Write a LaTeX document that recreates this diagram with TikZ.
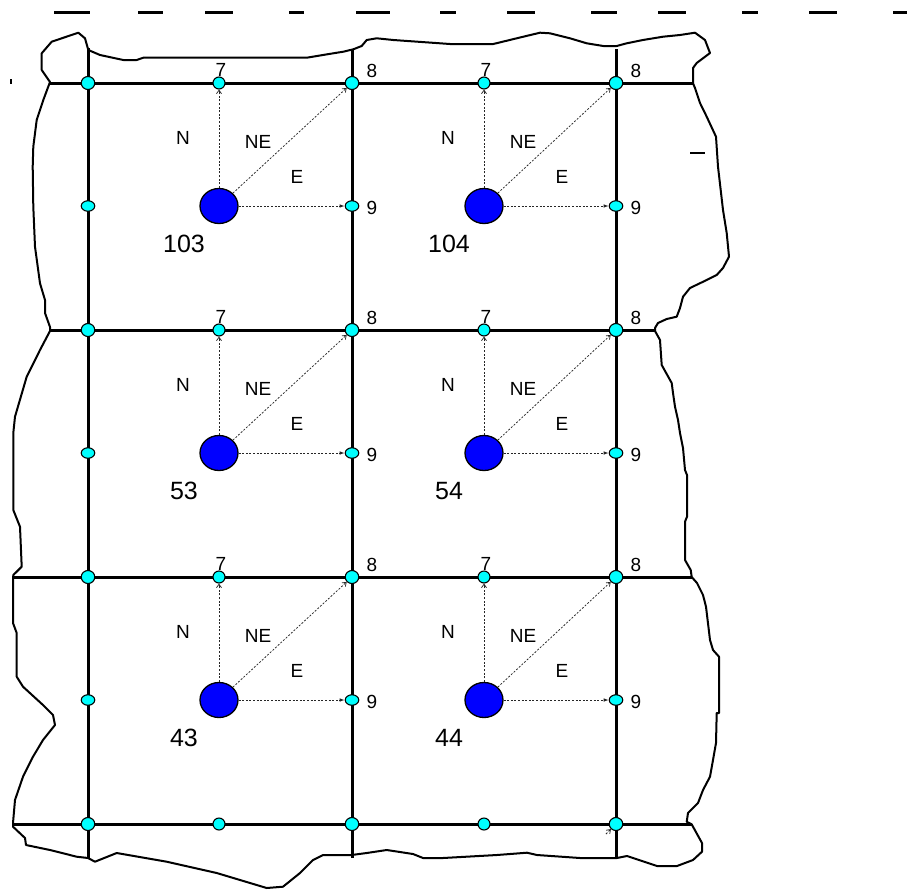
\documentclass[tikz,border=0pt]{standalone}
\usepackage{fontspec}
\setmainfont{Liberation Sans}
\usetikzlibrary{shapes.geometric,arrows.meta}
\definecolor{dotcyan}{RGB}{0,255,255}
\definecolor{cellblue}{RGB}{0,0,255}
\begin{document}
\begin{tikzpicture}[x=1pt,y=-1pt,
  gridline/.style={line width=3pt},
  rim/.style={line width=2pt, line join=round},
  cornerdot/.style={ellipse, draw, line width=1.1pt, fill=dotcyan, inner sep=0pt, minimum width=13.5pt, minimum height=13pt},
  topdot/.style={cornerdot, minimum width=12pt, minimum height=12pt},
  sidedot/.style={cornerdot, minimum width=13.5pt, minimum height=10.5pt},
  cellball/.style={ellipse, draw, line width=1.3pt, fill=cellblue, inner sep=0pt, minimum width=38pt, minimum height=35pt},
  ray/.style={line width=0.75pt, dash pattern=on 2pt off 1.6pt, draw=black!85},
  barb/.style={-{Straight Barb[length=3.5pt,width=5pt]}},
  fillhead/.style={-{Latex[length=5pt,width=3.5pt]}},
  lab/.style={font=\fontsize{19}{20}\selectfont, inner sep=0pt},
  num/.style={font=\fontsize{25}{26}\selectfont, inner sep=0pt},
  topdash/.style={line width=3pt},
]
\useasboundingbox (0,0) rectangle (907,889);

% top dashed row
\foreach \xa/\xb in {54/90,138/163,205/233,289/304,356/390,440/456,507/535,591/617,658/686,742/758,809/837,893/907}
  \draw[topdash] (\xa,12.7) -- (\xb,12.7);

% stray marks
\draw[line width=1.2pt] (11,79) -- (11,84);
\draw[line width=2.8pt] (690,153) -- (705,153);

% irregular outline
\draw[rim] (50,82) -- (41.7,70) -- (41.7,53.3) -- (51.7,41.7) -- (78.3,32.7) -- (85,38.3) -- (88.3,50) -- (100,55) -- (123.3,60) -- (136.7,60) -- (143.3,57.7) -- (306.7,57.7) -- (333.3,53.3) -- (343.3,51.7) -- (353.3,49.3) -- (361.7,46) -- (366.7,40) -- (376.7,38.3) -- (393.3,40) -- (450,44) -- (493.3,44) -- (516.7,38.3) -- (540,32.7) -- (550,33.3) -- (570,38.3) -- (586.7,43.3) -- (603.3,46) -- (616.7,46) -- (626.7,43.3) -- (643,40) -- (663,36.7) -- (680,35) -- (695,32.7) -- (705,40) -- (710,53) -- (696.7,63) -- (693,68) -- (693,83.3)
 -- (695,88) -- (700,103) -- (706.7,116.7) -- (716,136.7) -- (718,166.7) -- (723,210) -- (726.7,233) -- (729,256.7) -- (723,268) -- (716.7,275) -- (706.7,280) -- (690,288) -- (683,296.7) -- (680,308) -- (676.7,316.7) -- (666.7,319) -- (658,323) -- (655,328) -- (655,331) -- (660,340) -- (661.7,365) -- (671.7,383) -- (673,393) -- (675,406.7) -- (678,420) -- (680,433) -- (683,448) -- (685,470) -- (687,475) -- (687,516.7) -- (685,521.7) -- (685,560) -- (690.7,570) -- (691.7,577) -- (697,583) -- (703,595) -- (706,606.7) -- (710,640) -- (713,650) -- (719,656.7) -- (719,713) -- (716.7,713) -- (716,743) -- (713,760) -- (710,776.7) -- (703,790) -- (698,803) -- (688,813) -- (686.7,821.7) -- (691.7,824.3) -- (693,826.7) -- (702,843) -- (702,851.7) -- (693,860) -- (677,866) -- (657,866) -- (627,856) -- (617,858)
 -- (580,858) -- (537,855) -- (527,852.7) -- (497,855) -- (443,858) -- (423,858) -- (413,854) -- (400,852) -- (386.7,850) -- (366.7,853) -- (351.7,855) -- (323,855) -- (313,860) -- (300,873) -- (283,886.7) -- (266.7,888) -- (216.7,873) -- (166.7,861.7) -- (116.7,853) -- (95,861.7) -- (88,858) -- (76.7,856.7) -- (50,850) -- (26,845) -- (25,838) -- (13,826.7) -- (13,823)
 -- (15,800) -- (23,776.7) -- (33,756.7) -- (43,740) -- (55,725) -- (53,715) -- (43,705) -- (23,686.7) -- (16.7,676.7) -- (16.7,633) -- (13,623) -- (13,580) -- (13.3,575) -- (21.7,566.7) -- (20,526.7) -- (13.3,510) -- (13.3,433) -- (15,416.7) -- (26.7,376.7) -- (40,350) -- (50,331) -- (50,327) -- (45,313) -- (45,300) -- (40,283.3) -- (35,246.7) -- (33.3,206.7) -- (32.7,166.7) -- (33.3,146.7) -- (36.7,120) -- (43.3,100) -- cycle;

% grid lines
\coordinate (h0L) at (50,83);   \coordinate (h0R) at (693,83);
\coordinate (h1L) at (50,330);  \coordinate (h1R) at (655,330);
\coordinate (h2L) at (13,577);  \coordinate (h2R) at (692,577);
\coordinate (h3L) at (13,824);  \coordinate (h3R) at (692,824);
\coordinate (v0T) at (88,48);   \coordinate (v0B) at (88,858);
\coordinate (v1T) at (352,49);  \coordinate (v1B) at (352,858);
\coordinate (v2T) at (616,49);  \coordinate (v2B) at (616,858);
\foreach \ln in {h0,h1,h2,h3}
  \draw[gridline] (\ln L) -- (\ln R);
\foreach \ln in {v0,v1,v2}
  \draw[gridline] (\ln T) -- (\ln B);

% dots on the grid
\foreach \ci/\xx in {0/88,2/352,4/616}{
  \foreach \ri/\yy in {0/83,1/330,2/577,3/824}
    \node[cornerdot] (g-\ci-\ri) at (\xx,\yy) {};
  \foreach \ri/\yy in {0/206,1/453,2/700}
    \node[sidedot] (s-\ci-\ri) at (\xx,\yy) {};
}
\foreach \ci/\xx in {1/219,3/484}
  \foreach \ri/\yy in {0/83,1/330,2/577,3/824}
    \node[topdot] (g-\ci-\ri) at (\xx,\yy) {};

% cells with their rays and labels
\foreach \ci/\ni/\ri/\lab in {1/2/0/103, 3/4/0/104, 1/2/1/53, 3/4/1/54, 1/2/2/43, 3/4/2/44}{
  \node[cellball] (k-\ci-\ri) at (g-\ci-\ri |- s-\ni-\ri) {};
  \draw[ray,barb] (k-\ci-\ri) -- (g-\ci-\ri);
  \draw[ray,barb] (k-\ci-\ri) -- (g-\ni-\ri);
  \draw[ray,fillhead] (k-\ci-\ri) -- (s-\ni-\ri);
  \node[lab] at ([shift={(2,-13)}]g-\ci-\ri) {7};
  \node[lab] at ([shift={(20,-12)}]g-\ni-\ri) {8};
  \node[lab] at ([shift={(20,2)}]s-\ni-\ri) {9};
  \node[lab] at ([shift={(-36,-68)}]k-\ci-\ri) {N};
  \node[lab] at ([shift={(39,-64)}]k-\ci-\ri) {NE};
  \node[lab] at ([shift={(78,-29)}]k-\ci-\ri) {E};
  \node[num] at ([shift={(-35,38)}]k-\ci-\ri) {\lab};
}

% small stray arrow at the bottom-right dot
\coordinate (stray) at (606,834);
\draw[ray,barb] (stray) -- (g-4-3);
\end{tikzpicture}
\end{document}
